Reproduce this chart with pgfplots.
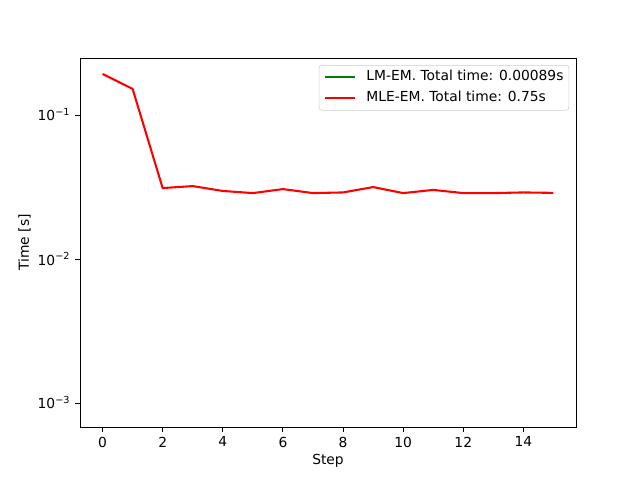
\documentclass[border=0pt]{standalone}
\usepackage{pgfplots}
\pgfplotsset{compat=1.18}
\usepackage{fontspec}
\setmainfont{DejaVu Sans}
\definecolor{mplgreen}{HTML}{008000}
\definecolor{mplred}{HTML}{FF0000}
\begin{document}
\fontsize{10}{12}\selectfont
\begin{tikzpicture}
\path[use as bounding box] (-57.6bp,-38.16bp) rectangle (403.2bp,307.44bp);
\begin{axis}[
  scale only axis,
  width=357.12bp, height=265.68bp,
  ymode=log, log basis y=10,
  xmin=-0.75, xmax=15.75,
  ymin=0.000681, ymax=0.249,
  xtick={0,2,4,6,8,10,12,14},
  ytick={0.001,0.01,0.1},
  yticklabels={10\textsuperscript{−3},10\textsuperscript{−2},10\textsuperscript{−1}},
  /pgf/number format/assume math mode=true,
  tick label style={font=\fontsize{10}{12}\selectfont},
  label style={font=\fontsize{10}{12}\selectfont},
  tick align=outside,
  tick pos=left,
  major tick length=3.5bp,
  minor tick length=2bp,
  every tick/.style={black, line width=0.6bp},
  axis line style={line width=0.6bp},
  xlabel={Step}, ylabel={Time [s]},
  xlabel style={at={(axis description cs:0.5,0)}, anchor=north, yshift=-16bp},
  ylabel style={at={(axis description cs:0,0.5)}, anchor=south, yshift=32bp},
  legend style={at={(axis description cs:0.986,0.981)}, anchor=north east,
    draw=black!20, rounded corners=2bp, font=\fontsize{10}{12}\selectfont,
    nodes={inner sep=0bp, text height=7.5bp, text depth=2.5bp},
    column sep=7.2bp, row sep=5bp, inner xsep=3.8bp, inner ysep=3.7bp},
  legend cell align=left,
  legend image code/.code={\draw[#1] (0bp,0bp) -- (21.6bp,0bp);},
]
\addlegendimage{mplgreen, line width=1.5bp}
\addlegendentry{LM-EM. Total time: 0.00089s}
\addplot[mplred, line width=1.5bp] coordinates {
(0,0.193) (1,0.152) (2,0.0311) (3,0.0321) (4,0.0297) (5,0.0287)
(6,0.0306) (7,0.0287) (8,0.0290) (9,0.0316) (10,0.0287) (11,0.0302)
(12,0.0287) (13,0.0287) (14,0.0290) (15,0.0288)
};
\addlegendentry{MLE-EM. Total time: 0.75s}
\end{axis}
\end{tikzpicture}
\end{document}
